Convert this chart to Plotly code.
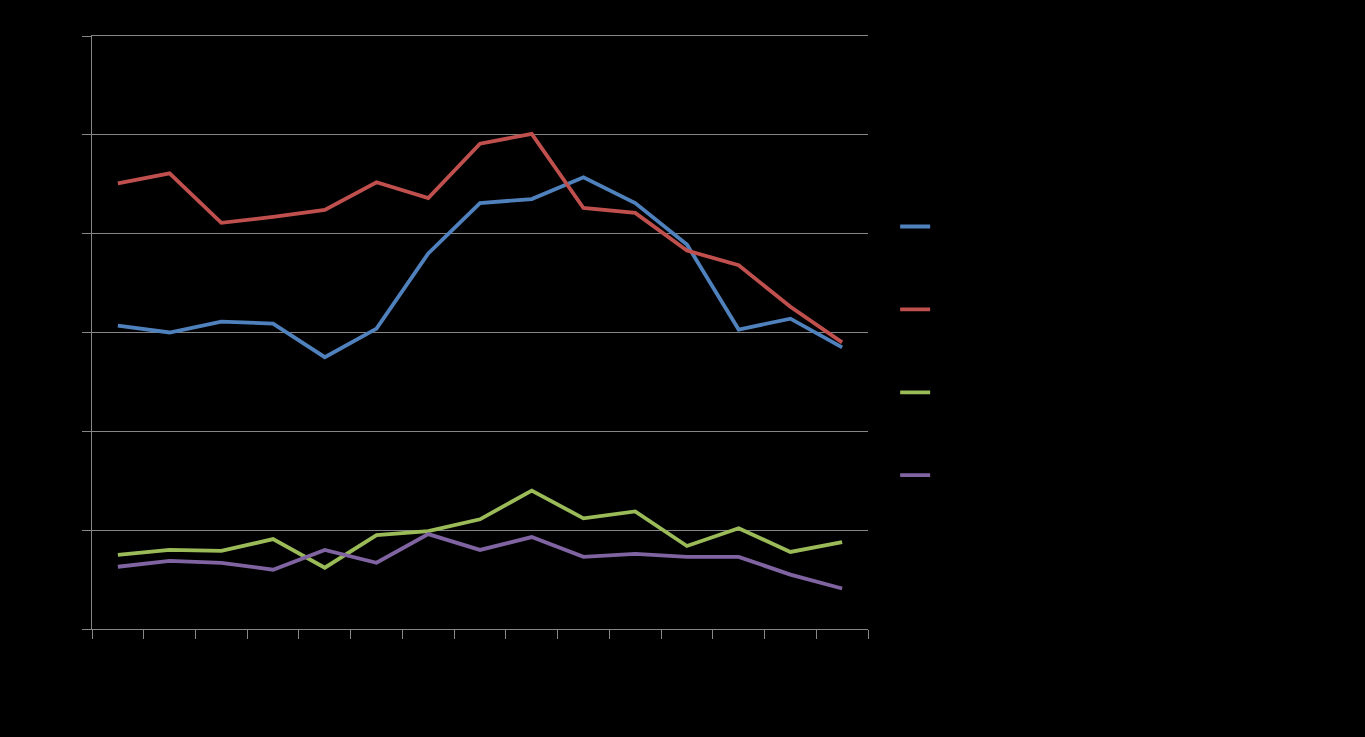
import plotly.graph_objects as go

categories = [str(i) for i in range(1, 16)]
series_names = ["Series 1", "Series 2", "Series 3", "Series 4"]
blue_values = [30.7, 30.0, 31.1, 30.9, 27.5, 30.4, 38.0, 43.1, 43.5, 45.7, 43.1, 38.9, 30.3, 31.4, 28.5]
red_values = [45.1, 46.1, 41.1, 41.7, 42.4, 45.2, 43.6, 49.1, 50.1, 42.6, 42.1, 38.3, 36.8, 32.6, 29.0]
green_values = [7.5, 8.0, 7.9, 9.1, 6.2, 9.5, 9.9, 11.1, 14.0, 11.2, 11.9, 8.4, 10.2, 7.8, 8.8]
purple_values = [6.3, 6.9, 6.7, 6.0, 8.0, 6.7, 9.6, 8.0, 9.3, 7.3, 7.6, 7.3, 7.3, 5.5, 4.1]
colors = ["#4F81BD", "#C0504D", "#9BBB59", "#8064A2"]

fig = go.Figure()
for name, vals, col in zip(series_names, [blue_values, red_values, green_values, purple_values], colors):
    fig.add_trace(go.Scatter(x=categories, y=vals, mode="lines", name=name,
                             legendgroup=name,
                             line=dict(color=col, width=3.8)))

grid = "#868686"
fig.update_layout(
    width=1365, height=737,
    paper_bgcolor="black", plot_bgcolor="black",
    margin=dict(l=92, r=497, t=36, b=108),
    font=dict(family="Liberation Sans, Arial", color="black", size=12),
    showlegend=True,
    legend=dict(x=1.035, y=0.704, xanchor="left", yanchor="top",
                tracegroupgap=63, bgcolor="rgba(0,0,0,0)",
                font=dict(color="black", size=13)),
    xaxis=dict(range=[-0.5, 14.5], showgrid=False, showline=True, linecolor=grid, linewidth=1,
               mirror=True,
               ticks="outside", tickson="boundaries", ticklen=9, tickcolor=grid,
               tickfont=dict(color="black"), zeroline=False),
    yaxis=dict(range=[0, 60], dtick=10, showgrid=True, gridcolor=grid, gridwidth=1,
               showline=True, linecolor=grid, linewidth=1,
               ticks="outside", ticklen=9, tickcolor=grid,
               tickfont=dict(color="black"), zeroline=False),
)
fig.write_html("out.html", config={"displayModeBar": False},
               post_script="document.body.style.margin='0';document.body.style.background='black';")
